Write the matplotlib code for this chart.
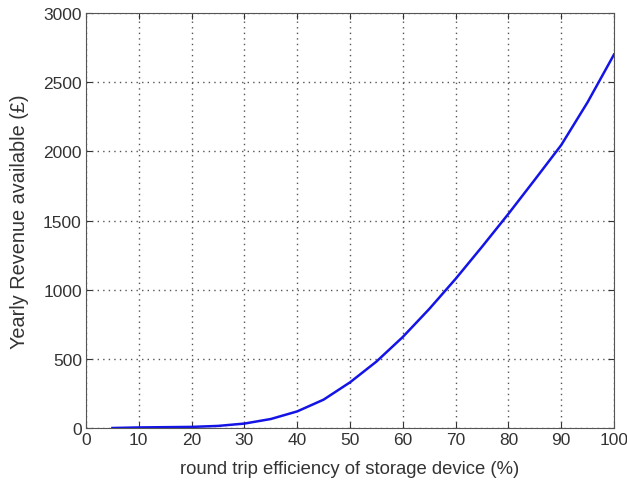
import matplotlib
matplotlib.use('Agg')
import matplotlib.pyplot as plt

efficiency = [5, 10, 15, 20, 25, 30, 35, 40, 45, 50, 55, 60, 65, 70, 75, 80, 85, 90, 95, 100]
revenue = [0, 4, 6, 8, 15, 32, 65, 120, 205, 330, 480, 658, 860, 1078, 1310, 1548, 1795, 2045, 2355, 2700]

plt.rcParams['font.family'] = ['Liberation Sans', 'DejaVu Sans']

fig = plt.figure(figsize=(6.27, 4.89), dpi=100)
ax = fig.add_axes([86 / 627, 1 - 429 / 489, 528 / 627, 415 / 489])

ax.plot(efficiency, revenue, color='#1414e6', linewidth=1.8)

ax.set_xlim(0, 100)
ax.set_ylim(0, 3000)
ax.set_xticks(range(0, 101, 10))
ax.set_yticks(range(0, 3001, 500))
ax.grid(True, linestyle=(0, (1, 3)), color='#555555', linewidth=1.0)
ax.tick_params(direction='in', top=True, right=True, labelsize=12.5, colors='#333333',
               length=4, pad=3)
for s in ax.spines.values():
    s.set_color('#555555')

ax.set_xlabel('round trip efficiency of storage device (%)', fontsize=13.3, color='#333333')
ax.set_ylabel('Yearly Revenue available (\u00a3)', fontsize=14.3, color='#333333')
ax.xaxis.set_label_coords(0.5, -0.077)
ax.yaxis.set_label_coords(-0.108, 0.5)

plt.savefig('out.png', dpi=100)
